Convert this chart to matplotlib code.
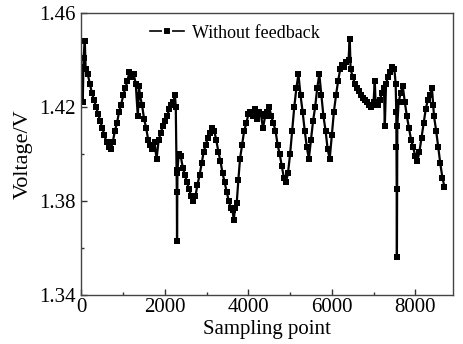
import matplotlib
matplotlib.use("Agg")
import matplotlib.pyplot as plt
from matplotlib.lines import Line2D
from matplotlib.ticker import MultipleLocator

plt.rcParams['font.family'] = ['Liberation Serif', 'DejaVu Serif']

# sampling point index
sample_x = [
    0, 30, 50, 80, 100, 150, 200, 250, 300, 350, 400, 450, 500, 550, 600, 650, 700, 750, 800, 850, 900, 950,
    1000, 1050, 1100, 1150, 1200, 1250, 1300, 1350, 1380, 1400, 1450, 1500, 1550, 1600, 1650, 1700, 1750, 1800, 1850, 1900, 1950,
    2000, 2050, 2100, 2150, 2200, 2240, 2260, 2280, 2285, 2290, 2300, 2330, 2380, 2430, 2480, 2530, 2580, 2630, 2680, 2730, 2780, 2830, 2880, 2930, 2980,
    3030, 3080, 3130, 3180, 3230, 3280, 3330, 3380, 3430, 3480, 3530, 3580, 3620, 3650, 3680, 3720, 3760, 3800, 3850, 3900, 3950,
    4000, 4050, 4100, 4150, 4200, 4250, 4300, 4350, 4400, 4450, 4500, 4550, 4600, 4650, 4700, 4750, 4800, 4850, 4900, 4950,
    5000, 5050, 5100, 5150, 5200, 5250, 5300, 5350, 5400, 5450, 5500, 5550, 5600, 5650, 5700, 5750, 5800, 5850, 5900, 5950,
    6000, 6050, 6100, 6150, 6200, 6250, 6300, 6350, 6400, 6430, 6450, 6500, 6550, 6600, 6650, 6700, 6750, 6800, 6850, 6900, 6950,
    7000, 7030, 7050, 7100, 7150, 7200, 7250, 7270, 7300, 7350, 7400, 7450, 7500, 7530, 7545, 7550, 7555, 7560, 7570, 7600, 7650, 7700, 7750, 7800, 7850, 7900, 7950,
    8000, 8050, 8100, 8150, 8200, 8250, 8300, 8350, 8400, 8430, 8450, 8500, 8550, 8600, 8650, 8700,
]

# voltage without feedback (V)
voltage = [
    1.437, 1.422, 1.441, 1.448, 1.436, 1.434, 1.430, 1.426, 1.423, 1.420, 1.417, 1.414, 1.411, 1.408, 1.405, 1.403, 1.402, 1.405, 1.410, 1.413, 1.418, 1.421,
    1.425, 1.428, 1.431, 1.435, 1.433, 1.434, 1.430, 1.416, 1.429, 1.425, 1.421, 1.415, 1.411, 1.406, 1.404, 1.402, 1.405, 1.398, 1.406, 1.409, 1.412,
    1.414, 1.416, 1.419, 1.421, 1.422, 1.425, 1.420, 1.392, 1.384, 1.363, 1.393, 1.400, 1.399, 1.394, 1.391, 1.388, 1.385, 1.382, 1.380, 1.382, 1.387, 1.391, 1.396, 1.401, 1.404,
    1.407, 1.409, 1.411, 1.410, 1.406, 1.401, 1.397, 1.392, 1.388, 1.384, 1.380, 1.377, 1.376, 1.372, 1.377, 1.379, 1.389, 1.398, 1.404, 1.410, 1.413,
    1.417, 1.418, 1.416, 1.419, 1.415, 1.418, 1.417, 1.411, 1.416, 1.418, 1.420, 1.416, 1.413, 1.410, 1.404, 1.400, 1.395, 1.390, 1.388, 1.392,
    1.400, 1.410, 1.420, 1.428, 1.434, 1.425, 1.418, 1.410, 1.403, 1.398, 1.406, 1.414, 1.420, 1.428, 1.434, 1.425, 1.416, 1.410, 1.402, 1.398,
    1.408, 1.418, 1.425, 1.431, 1.436, 1.438, 1.437, 1.439, 1.440, 1.449, 1.436, 1.433, 1.430, 1.428, 1.427, 1.425, 1.424, 1.423, 1.422, 1.421, 1.420,
    1.422, 1.431, 1.421, 1.421, 1.423, 1.426, 1.428, 1.412, 1.430, 1.433, 1.435, 1.437, 1.436, 1.430, 1.418, 1.403, 1.385, 1.356, 1.412, 1.422, 1.426, 1.429, 1.422, 1.416, 1.411, 1.406, 1.403,
    1.399, 1.397, 1.401, 1.407, 1.413, 1.419, 1.423, 1.425, 1.428, 1.421, 1.416, 1.410, 1.403, 1.396, 1.390, 1.386,
]

x_ticks = [0, 2000, 4000, 6000, 8000]
y_ticks = [1.34, 1.38, 1.42, 1.46]

fig = plt.figure(figsize=(4.63, 3.44), dpi=100)
ax = fig.add_axes([0.176, 0.1424, 0.802, 0.8196])

ax.plot(sample_x, voltage, color='black', lw=1.6, marker='s', ms=4.2,
        markeredgewidth=0)

# legend handle: dash, square, dash (white edge on the marker makes the gaps)
h_line = Line2D([], [], color='black', lw=1.2)
h_mark = Line2D([], [], ls='none', marker='s', ms=5.4, mfc='black',
                mec='white', mew=1.5)
ax.legend([(h_line, h_mark)], ['Without feedback'], loc='upper left',
          bbox_to_anchor=(0.165, 0.985), frameon=False, fontsize=13,
          handlelength=1.9, handletextpad=0.45, borderaxespad=0)

ax.set_xlim(0, 8900)
ax.set_ylim(1.34, 1.46)
ax.set_xticks(x_ticks)
ax.set_yticks(y_ticks)
ax.set_yticklabels([f"{v:.2f}" for v in y_ticks])
ax.xaxis.set_minor_locator(MultipleLocator(1000))
ax.yaxis.set_minor_locator(MultipleLocator(0.02))
ax.tick_params(which='both', direction='in', top=False, right=False,
               labelsize=15, color='#333333')
ax.tick_params(axis='x', pad=2)
ax.tick_params(axis='y', pad=4)
ax.tick_params(which='major', length=4.5, width=1)
ax.tick_params(which='minor', length=2.5, width=1)
for s in ax.spines.values():
    s.set_color('#444444')
    s.set_linewidth(1)

ax.set_xlabel('Sampling point', fontsize=15, labelpad=2)
ax.set_ylabel('Voltage/V', fontsize=16, labelpad=5)

fig.savefig('out.png', dpi=100)
